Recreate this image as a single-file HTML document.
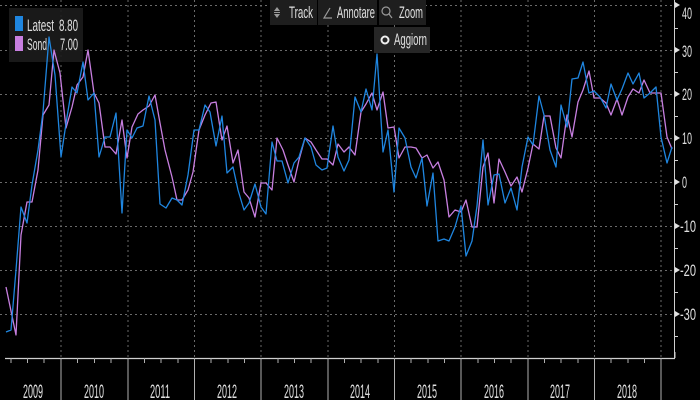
<!DOCTYPE html>
<html><head><meta charset="utf-8"><style>
html,body{margin:0;padding:0;background:#000;}
svg{display:block;}
text{font-family:"Liberation Sans Narrow","Liberation Sans",sans-serif;fill:#e0e0e0;}
</style></head><body>
<svg width="700" height="400" viewBox="0 0 700 400" xmlns="http://www.w3.org/2000/svg">
<rect width="700" height="400" fill="#000"/>
<g stroke="#6a6a6a" stroke-width="1" stroke-dasharray="2,3">
<line x1="0" y1="5.5" x2="674" y2="5.5"/>
<line x1="0" y1="50.5" x2="674" y2="50.5"/>
<line x1="0" y1="94.5" x2="674" y2="94.5"/>
<line x1="0" y1="138.5" x2="674" y2="138.5"/>
<line x1="0" y1="182.5" x2="674" y2="182.5"/>
<line x1="0" y1="226.5" x2="674" y2="226.5"/>
<line x1="0" y1="270.5" x2="674" y2="270.5"/>
<line x1="0" y1="314.5" x2="674" y2="314.5"/>
</g>
<g stroke="#6a6a6a" stroke-width="1" stroke-dasharray="2,3">
<line x1="61" y1="0" x2="61" y2="357"/>
<line x1="128" y1="0" x2="128" y2="357"/>
<line x1="194.5" y1="0" x2="194.5" y2="357"/>
<line x1="261" y1="0" x2="261" y2="357"/>
<line x1="328" y1="0" x2="328" y2="357"/>
<line x1="394.5" y1="0" x2="394.5" y2="357"/>
<line x1="461" y1="0" x2="461" y2="357"/>
<line x1="528" y1="0" x2="528" y2="357"/>
<line x1="594.5" y1="0" x2="594.5" y2="357"/>
<line x1="661" y1="0" x2="661" y2="357"/>
</g>
<rect x="9" y="8" width="74" height="54" fill="#1c1c1c" opacity="0.9"/>
<polyline fill="none" stroke="#c77fe0" stroke-width="1.3" stroke-linejoin="round" points="6,287 11,311 16,335 21,235 27,202 32,202 38,170 43,115 49,105 54,50 60,73 66,128 72,107 77,85 83,77 88,50 94,93 99,103 105,147 110,147 116,154 122,120 127,158 132,127 138,114 143,110 149,106 155,95 160,123 165,150 172,177 177,200 182,200 188,190 193,172 199,130 205,115 211,103 216,102 222,140 227,126 233,163 238,150 244,192 249,198 255,217 261,183 266,183 272,190 277,138 283,150 288,165 294,182 299,160 305,138 311,142 316,150 322,159 327,159 333,165 338,144 344,152 349,147 355,155 361,112 366,104 372,93 377,110 383,92 388,128 394,127 399,158 405,147 411,147 416,148 422,158 427,155 433,168 438,162 444,180 449,217 455,210 461,212 466,200 472,227 477,227 483,167 488,153 494,203 499,159 505,172 511,186 517,177 522,192 528,168 533,144 539,149 544,116 550,116 556,148 561,158 567,115 572,137 578,102 583,90 589,71 594,98 600,98 606,103 611,115 617,99 622,115 628,97 633,89 639,93 644,80 650,93 656,93 661,93 667,137 672,149"/>
<polyline fill="none" stroke="#1f86e0" stroke-width="1.3" stroke-linejoin="round" points="6,332 11,330 16,270 21,207 27,223 32,185 38,150 43,112 49,37 55,75 61,157 67,117 72,87 77,93 83,62 88,100 94,93 99,157 105,137 110,137 116,113 122,213 127,130 132,138 137,128 143,126 149,96 155,120 160,204 166,208 172,198 177,200 182,205 188,175 194,130 199,130 205,105 210,112 216,146 222,116 227,173 233,167 238,190 244,210 249,203 255,184 261,207 266,214 272,142 277,161 282,161 288,183 294,163 299,157 305,138 311,147 316,165 322,170 327,168 333,126 338,157 344,171 349,160 355,97 361,112 366,89 372,110 377,54 383,152 388,130 394,192 399,128 405,138 411,167 416,178 422,158 427,206 433,173 438,241 444,239 449,241 455,227 461,206 466,256 472,241 477,206 483,140 488,205 494,175 499,174 505,203 511,188 517,210 522,167 528,137 533,145 539,96 544,115 550,150 556,167 561,105 567,127 572,79 578,78 583,62 589,93 594,91 600,97 606,108 611,84 617,100 622,89 628,73 633,84 639,73 644,98 650,93 656,87 661,137 667,163 672,147"/>
<rect x="15" y="16" width="8" height="15" fill="#1f86e0"/>
<rect x="15" y="36" width="8" height="15" fill="#c77fe0"/>
<text x="27" y="31" font-size="17" textLength="27" lengthAdjust="spacingAndGlyphs">Latest</text>
<text x="59" y="31" font-size="17" textLength="19" lengthAdjust="spacingAndGlyphs">8.80</text>
<text x="27" y="50" font-size="17" textLength="20" lengthAdjust="spacingAndGlyphs">Sond</text>
<text x="60" y="50" font-size="17" textLength="18" lengthAdjust="spacingAndGlyphs">7.00</text>
<rect x="270" y="0" width="47" height="25" fill="#1e1e1e"/>
<rect x="318" y="0" width="59" height="25" fill="#1e1e1e"/>
<rect x="379" y="0" width="47" height="25" fill="#1e1e1e"/>
<g fill="#9a9a9a"><polygon points="277,7 274,11 280,11"/><polygon points="277,18 274,14 280,14"/><rect x="274" y="12" width="6" height="1"/></g>
<text x="289" y="18" font-size="17" textLength="24" lengthAdjust="spacingAndGlyphs">Track</text>
<path d="M330,8 L324,18 L332,18" fill="none" stroke="#9a9a9a" stroke-width="1.2"/>
<text x="337" y="18" font-size="17" textLength="38" lengthAdjust="spacingAndGlyphs">Annotare</text>
<circle cx="386" cy="11" r="4" fill="none" stroke="#9a9a9a" stroke-width="1.2"/>
<line x1="389" y1="14" x2="392" y2="18" stroke="#9a9a9a" stroke-width="1.2"/>
<text x="399" y="18" font-size="17" textLength="24" lengthAdjust="spacingAndGlyphs">Zoom</text>
<rect x="374" y="27" width="56" height="26" fill="#262626"/>
<circle cx="385" cy="40" r="3.5" fill="none" stroke="#f0f0f0" stroke-width="2"/>
<text x="394" y="45" font-size="17" textLength="33" lengthAdjust="spacingAndGlyphs">Aggiorn</text>
<line x1="674.5" y1="0" x2="674.5" y2="358" stroke="#cfcfcf" stroke-width="1"/>
<g fill="#e0e0e0">
<polygon points="675,2 680,5 675,8"/>
<polygon points="675,47 680,50 675,53"/>
<polygon points="675,91 680,94 675,97"/>
<polygon points="675,135 680,138 675,141"/>
<polygon points="675,179 680,182 675,185"/>
<polygon points="675,223 680,226 675,229"/>
<polygon points="675,267 680,270 675,273"/>
<polygon points="675,311 680,314 675,317"/>
</g>
<g stroke="#cfcfcf" stroke-width="1">
<line x1="675" y1="28.5" x2="678" y2="28.5"/>
<line x1="675" y1="72.5" x2="678" y2="72.5"/>
<line x1="675" y1="116.5" x2="678" y2="116.5"/>
<line x1="675" y1="160.5" x2="678" y2="160.5"/>
<line x1="675" y1="204.5" x2="678" y2="204.5"/>
<line x1="675" y1="248.5" x2="678" y2="248.5"/>
<line x1="675" y1="292.5" x2="678" y2="292.5"/>
<line x1="675" y1="336.5" x2="678" y2="336.5"/>
</g>
<g font-size="17">
<text x="682" y="19" textLength="10" lengthAdjust="spacingAndGlyphs">40</text>
<text x="682" y="57" textLength="10" lengthAdjust="spacingAndGlyphs">30</text>
<text x="682" y="100" textLength="10" lengthAdjust="spacingAndGlyphs">20</text>
<text x="682" y="144" textLength="10" lengthAdjust="spacingAndGlyphs">10</text>
<text x="682" y="188" textLength="5" lengthAdjust="spacingAndGlyphs">0</text>
<text x="680" y="232" textLength="16" lengthAdjust="spacingAndGlyphs">-10</text>
<text x="680" y="276" textLength="16" lengthAdjust="spacingAndGlyphs">-20</text>
<text x="680" y="320" textLength="16" lengthAdjust="spacingAndGlyphs">-30</text>
</g>
<line x1="5" y1="358.5" x2="675" y2="358.5" stroke="#cfcfcf" stroke-width="1.2"/>
<g stroke="#b0b0b0" stroke-width="1">
<line x1="61" y1="358" x2="61" y2="400"/>
<line x1="128" y1="358" x2="128" y2="400"/>
<line x1="194.5" y1="358" x2="194.5" y2="400"/>
<line x1="261" y1="358" x2="261" y2="400"/>
<line x1="328" y1="358" x2="328" y2="400"/>
<line x1="394.5" y1="358" x2="394.5" y2="400"/>
<line x1="461" y1="358" x2="461" y2="400"/>
<line x1="528" y1="358" x2="528" y2="400"/>
<line x1="594.5" y1="358" x2="594.5" y2="400"/>
<line x1="661" y1="358" x2="661" y2="400"/>
</g>
<g stroke="#b0b0b0" stroke-width="1">
<line x1="11" y1="358" x2="11" y2="363"/><line x1="27.5" y1="358" x2="27.5" y2="363"/><line x1="44" y1="358" x2="44" y2="363"/>
<line x1="77.5" y1="358" x2="77.5" y2="363"/><line x1="94.5" y1="358" x2="94.5" y2="363"/><line x1="111" y1="358" x2="111" y2="363"/>
<line x1="144.5" y1="358" x2="144.5" y2="363"/><line x1="161" y1="358" x2="161" y2="363"/><line x1="178" y1="358" x2="178" y2="363"/>
<line x1="211" y1="358" x2="211" y2="363"/><line x1="228" y1="358" x2="228" y2="363"/><line x1="244.5" y1="358" x2="244.5" y2="363"/>
<line x1="278" y1="358" x2="278" y2="363"/><line x1="294.5" y1="358" x2="294.5" y2="363"/><line x1="311" y1="358" x2="311" y2="363"/>
<line x1="344.5" y1="358" x2="344.5" y2="363"/><line x1="361" y1="358" x2="361" y2="363"/><line x1="378" y1="358" x2="378" y2="363"/>
<line x1="411" y1="358" x2="411" y2="363"/><line x1="428" y1="358" x2="428" y2="363"/><line x1="444.5" y1="358" x2="444.5" y2="363"/>
<line x1="478" y1="358" x2="478" y2="363"/><line x1="494.5" y1="358" x2="494.5" y2="363"/><line x1="511" y1="358" x2="511" y2="363"/>
<line x1="544.5" y1="358" x2="544.5" y2="363"/><line x1="561" y1="358" x2="561" y2="363"/><line x1="578" y1="358" x2="578" y2="363"/>
<line x1="611" y1="358" x2="611" y2="363"/><line x1="628" y1="358" x2="628" y2="363"/><line x1="644.5" y1="358" x2="644.5" y2="363"/>
</g>
<line x1="675" y1="352" x2="675" y2="358" stroke="#cfcfcf" stroke-width="1"/>
<g font-size="19">
<text x="23" y="398" textLength="20" lengthAdjust="spacingAndGlyphs">2009</text>
<text x="84" y="398" textLength="20" lengthAdjust="spacingAndGlyphs">2010</text>
<text x="150" y="398" textLength="20" lengthAdjust="spacingAndGlyphs">2011</text>
<text x="217" y="398" textLength="20" lengthAdjust="spacingAndGlyphs">2012</text>
<text x="284" y="398" textLength="20" lengthAdjust="spacingAndGlyphs">2013</text>
<text x="350" y="398" textLength="20" lengthAdjust="spacingAndGlyphs">2014</text>
<text x="417" y="398" textLength="20" lengthAdjust="spacingAndGlyphs">2015</text>
<text x="484" y="398" textLength="20" lengthAdjust="spacingAndGlyphs">2016</text>
<text x="550" y="398" textLength="20" lengthAdjust="spacingAndGlyphs">2017</text>
<text x="617" y="398" textLength="20" lengthAdjust="spacingAndGlyphs">2018</text>
</g>
</svg>
</body></html>
